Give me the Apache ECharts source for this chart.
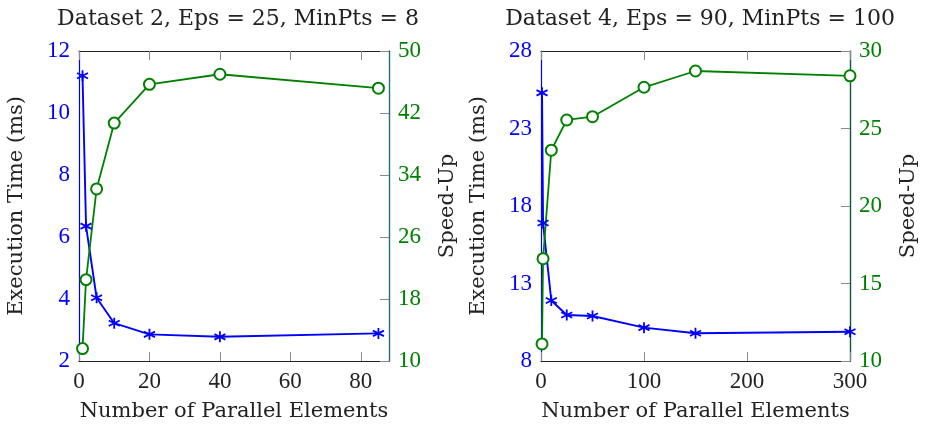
<!DOCTYPE html>
<html>
<head>
<meta charset="utf-8">
<script src="https://cdn.jsdelivr.net/npm/echarts@6/dist/echarts.min.js"></script>
<style>
  html, body { margin: 0; padding: 0; background: #fff; }
  #chart { width: 928px; height: 427px; }
</style>
</head>
<body>
<div id="chart"></div>
<script>
// 数据：左图 Dataset 2
const titleLeft = 'Dataset 2, Eps = 25, MinPts = 8';
const xLeft = [1, 2, 5, 10, 20, 40, 85];
const timeLeft = [11.2, 6.35, 4.04, 3.22, 2.86, 2.78, 2.89];
const speedLeft = [11.6, 20.5, 32.2, 40.7, 45.7, 47.0, 45.2];
const xTicksLeft = [0, 20, 40, 60, 80];
const timeTicksLeft = [2, 4, 6, 8, 10, 12];
const speedTicksLeft = [10, 18, 26, 34, 42, 50];

// 数据：右图 Dataset 4
const titleRight = 'Dataset 4, Eps = 90, MinPts = 100';
const xRight = [1, 2, 10, 25, 50, 100, 150, 300];
const timeRight = [25.3, 16.9, 11.9, 10.97, 10.9, 10.15, 9.79, 9.89];
const speedRight = [11.1, 16.6, 23.6, 25.55, 25.76, 27.66, 28.71, 28.4];
const xTicksRight = [0, 100, 200, 300];
const timeTicksRight = [8, 13, 18, 23, 28];
const speedTicksRight = [10, 15, 20, 25, 30];

const xName = 'Number of Parallel Elements';
const timeName = 'Execution Time (ms)';
const speedName = 'Speed-Up';

const FONT = 'DejaVu Serif';        // 标题和轴名
const NUM_FONT = 'Liberation Serif'; // 刻度数字
const BLUE = '#0000ff';
const GREEN = '#008000';
const TICK = '#8a8a8a';
const ASTERISK = 'path://M0,-1L0,1M-0.866,-0.5L0.866,0.5M-0.866,0.5L0.866,-0.5';

function zip(xs, ys) {
    return xs.map((x, i) => [x, ys[i]]);
}

// 刻度：朝内，灰色
function ticks(values) {
    return { show: true, inside: true, length: 9, customValues: values, lineStyle: { color: TICK, width: 1 } };
}

// x 轴：底部带标签和名称，顶部只有刻度，另加一个只画底部刻度的轴
function xAxes(grid, max, values) {
    return [{
        type: 'value', gridIndex: grid, min: 0, max: max, position: 'bottom',
        name: xName, nameLocation: 'middle', nameGap: 40,
        nameTextStyle: { fontFamily: FONT, fontSize: 21, color: '#222' },
        axisLine: { show: true, onZero: false, lineStyle: { color: '#222', width: 1.2 } },
        axisTick: { show: false },
        axisLabel: { customValues: values, margin: 9, fontFamily: NUM_FONT, fontSize: 23, color: '#222' },
        splitLine: { show: false }
    }, {
        type: 'value', gridIndex: grid, min: 0, max: max, position: 'top',
        axisLine: { show: true, onZero: false, lineStyle: { color: '#222', width: 1.2 } },
        axisTick: ticks(values),
        axisLabel: { show: false, customValues: values },
        splitLine: { show: false }
    }, {
        type: 'value', gridIndex: grid, min: 0, max: max, position: 'bottom',
        axisLine: { show: false, onZero: false },
        axisTick: ticks(values),
        axisLabel: { show: false, customValues: values },
        splitLine: { show: false }
    }];
}

function yAxes(grid, tMin, tMax, tTicks, sMin, sMax, sTicks, rightLineColor) {
    return [{
        type: 'value', gridIndex: grid, min: tMin, max: tMax, position: 'left',
        name: timeName, nameLocation: 'middle', nameGap: 52, nameRotate: 90,
        nameTextStyle: { fontFamily: FONT, fontSize: 21, color: '#222' },
        axisLine: { show: true, onZero: false, lineStyle: { color: BLUE, width: 1.2 } },
        axisTick: { show: false },
        axisLabel: { customValues: tTicks, margin: 9, fontFamily: NUM_FONT, fontSize: 23, color: BLUE },
        splitLine: { show: false }
    }, {
        type: 'value', gridIndex: grid, min: sMin, max: sMax, position: 'right',
        name: speedName, nameLocation: 'middle', nameGap: 48, nameRotate: 90,
        nameTextStyle: { fontFamily: FONT, fontSize: 21, color: '#222' },
        axisLine: { show: true, onZero: false, lineStyle: { color: rightLineColor, width: 1.4 } },
        axisTick: ticks(sTicks),
        axisLabel: { customValues: sTicks, margin: 9, fontFamily: NUM_FONT, fontSize: 23, color: GREEN },
        splitLine: { show: false }
    }];
}

function timeSeries(xi, yi, data) {
    return {
        type: 'line', xAxisIndex: xi, yAxisIndex: yi, data: data,
        symbol: ASTERISK, symbolSize: 11, showSymbol: true,
        lineStyle: { color: BLUE, width: 1.9 },
        itemStyle: { color: BLUE, borderColor: BLUE, borderWidth: 1.8 },
        animation: false, clip: false
    };
}

function speedSeries(xi, yi, data) {
    return {
        type: 'line', xAxisIndex: xi, yAxisIndex: yi, data: data,
        symbol: 'emptyCircle', symbolSize: 11, showSymbol: true,
        lineStyle: { color: GREEN, width: 1.8 },
        itemStyle: { color: GREEN, borderColor: GREEN, borderWidth: 1.8 },
        animation: false, clip: false
    };
}

const myChart = echarts.init(document.getElementById('chart'), null, { renderer: 'canvas' });
const option = {
    backgroundColor: '#fff',
    animation: false,
    title: [
        { text: titleLeft, left: 233, top: 3, textAlign: 'center',
          textStyle: { fontFamily: FONT, fontSize: 22, fontWeight: 'normal', color: '#222' } },
        { text: titleRight, left: 695, top: 3, textAlign: 'center',
          textStyle: { fontFamily: FONT, fontSize: 22, fontWeight: 'normal', color: '#222' } }
    ],
    grid: [
        { left: 79, top: 51, width: 310, height: 310 },
        { left: 541, top: 51, width: 309, height: 310 }
    ],
    // 左图 x 轴索引 0..2，右图 3..5
    xAxis: xAxes(0, 88, xTicksLeft).concat(xAxes(1, 300, xTicksRight)),
    yAxis: yAxes(0, 2, 12, timeTicksLeft, 10, 50, speedTicksLeft, '#1f6f7f')
        .concat(yAxes(1, 8, 28, timeTicksRight, 10, 30, speedTicksRight, '#0b5a3a')),
    series: [
        timeSeries(0, 0, zip(xLeft, timeLeft)),
        speedSeries(0, 1, zip(xLeft, speedLeft)),
        timeSeries(3, 2, zip(xRight, timeRight)),
        speedSeries(3, 3, zip(xRight, speedRight))
    ]
};
option && myChart.setOption(option);
</script>
</body>
</html>
